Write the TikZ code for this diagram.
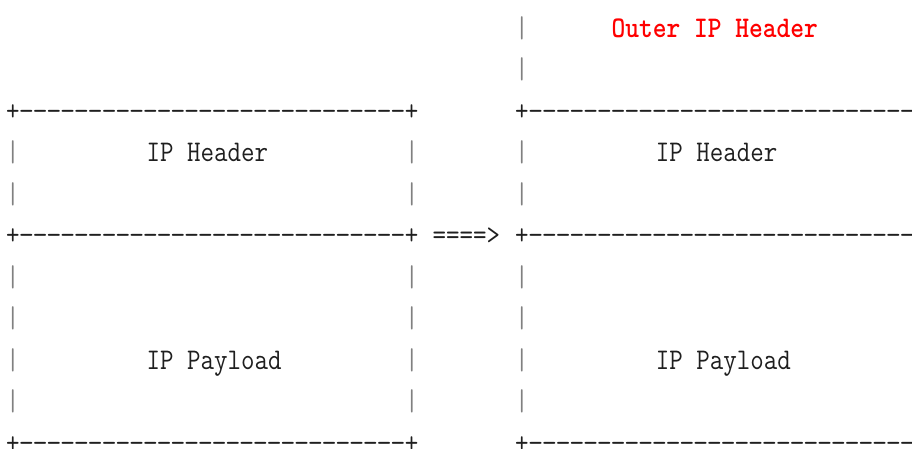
\documentclass[tikz,border=0pt]{standalone}
\definecolor{barcol}{gray}{0.5}
\definecolor{inkcol}{gray}{0.12}
\definecolor{outerred}{RGB}{255,0,0}
\newcommand\dsh{\makebox[0.525em]{\scalebox{1.12}[1]{-}}}
\newcommand\brd{+\dsh\dsh\dsh\dsh\dsh\dsh\dsh\dsh\dsh\dsh\dsh\dsh\dsh\dsh\dsh\dsh\dsh\dsh\dsh\dsh\dsh\dsh\dsh\dsh\dsh\dsh\dsh\dsh+}
\newcommand\nar[1]{\scalebox{0.8737}[1]{#1}}
\tikzset{
  asc/.style={anchor=base west,inner sep=0pt,outer sep=0pt,text=inkcol,
    font=\fontsize{30}{30}\selectfont\ttfamily},
  lbl/.style={asc,xshift=3pt},
  bar/.style={asc,text=barcol},
  redtxt/.style={asc,text=outerred,font=\fontsize{30}{30}\selectfont\ttfamily\bfseries}
}
\newcommand\ascat[5]{\node[#1] (#2) at ({6.12+13.76*#3},{28+41.5*#4+9}) {\nar{#5}};}
\begin{document}
\begin{tikzpicture}[x=1pt,y=-1pt]
\useasboundingbox (0,0) rectangle (912,448);
\clip (0,0) rectangle (912,448);
% row 0-1
\ascat{bar}{r0b}{37}{0}{|}
\ascat{redtxt}{outer}{44}{0}{Outer IP Header}
\ascat{bar}{r1b}{37}{1}{|}
% row 2 borders
\ascat{asc}{lt}{0}{2}{\brd}
\ascat{asc}{rt}{37}{2}{\brd}
% row 3
\ascat{bar}{r3a}{0}{3}{|}
\ascat{lbl}{lhdr}{10}{3}{IP Header}
\ascat{bar}{r3b}{29}{3}{|}
\ascat{bar}{r3c}{37}{3}{|}
\ascat{lbl}{rhdr}{47}{3}{IP Header}
% row 4
\ascat{bar}{r4a}{0}{4}{|}
\ascat{bar}{r4b}{29}{4}{|}
\ascat{bar}{r4c}{37}{4}{|}
% row 5
\ascat{asc}{lm}{0}{5}{\brd}
\ascat{asc}{arrow}{31}{5}{=\kern0pt=\kern0pt=\kern0pt=\kern0pt>}
\ascat{asc}{rm}{37}{5}{\brd}
% rows 6-7
\ascat{bar}{r6a}{0}{6}{|}
\ascat{bar}{r6b}{29}{6}{|}
\ascat{bar}{r6c}{37}{6}{|}
\ascat{bar}{r7a}{0}{7}{|}
\ascat{bar}{r7b}{29}{7}{|}
\ascat{bar}{r7c}{37}{7}{|}
% row 8
\ascat{bar}{r8a}{0}{8}{|}
\ascat{lbl}{lpay}{10}{8}{IP Payload}
\ascat{bar}{r8b}{29}{8}{|}
\ascat{bar}{r8c}{37}{8}{|}
\ascat{lbl}{rpay}{47}{8}{IP Payload}
% row 9
\ascat{bar}{r9a}{0}{9}{|}
\ascat{bar}{r9b}{29}{9}{|}
\ascat{bar}{r9c}{37}{9}{|}
% row 10
\ascat{asc}{lb}{0}{10}{\brd}
\ascat{asc}{rb}{37}{10}{\brd}
\end{tikzpicture}
\end{document}
